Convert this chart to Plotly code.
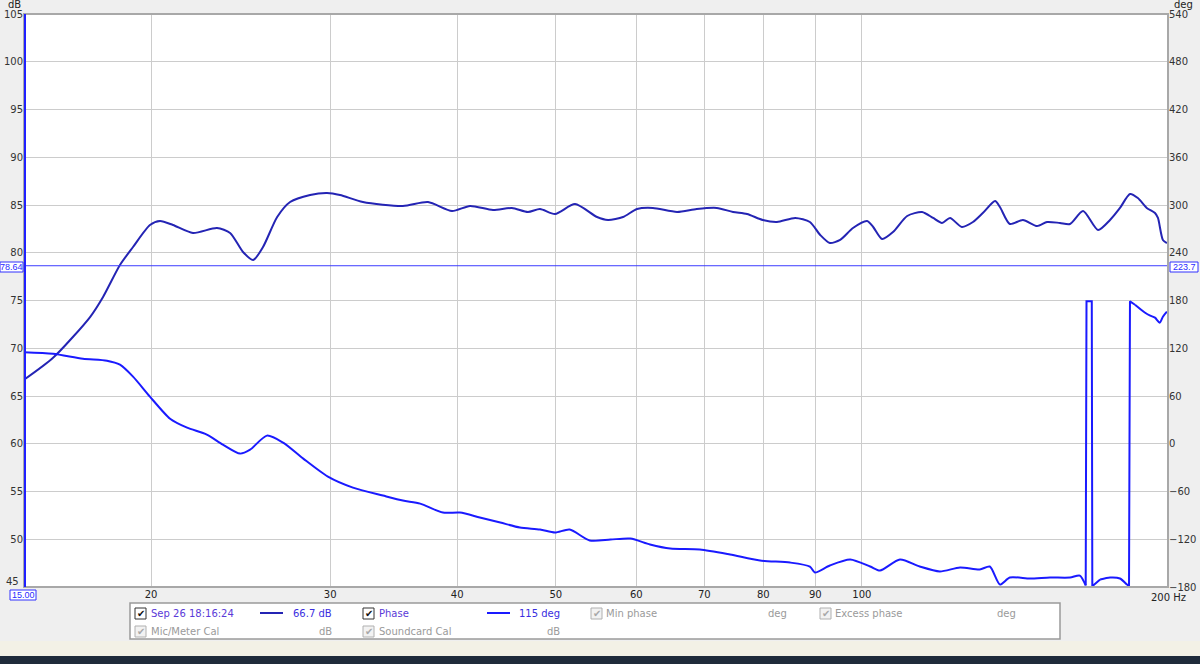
import plotly.graph_objects as go

# ---- data ----
spl_freq = [15.0, 16.02, 17.42, 17.94, 18.64, 19.2, 19.95, 20.41, 21.02, 21.99, 23.22, 23.92,
            24.63, 25.2, 25.77, 26.61, 27.4, 28.67, 29.79, 30.68, 32.31, 35.37, 37.44, 39.53,
            41.18, 43.38, 45.27, 46.95, 48.25, 49.92, 52.23, 54.9, 56.28, 58.23, 60.1, 62.3,
            65.8, 68.8, 72.0, 74.7, 77.1, 79.9, 82.5, 86.0, 88.9, 91.0, 93.0, 95.2, 98.0,
            101.2, 102.6, 104.7, 107.3, 110.8, 114.6, 117.5, 119.9, 122.1, 125.4, 128.6,
            131.5, 135.2, 136.7, 139.8, 144.0, 148.7, 152.1, 156.6, 160.2, 165.0, 170.7,
            175.4, 179.4, 183.5, 186.8, 190.6, 194.2, 195.5, 197.7, 199.5]
spl_db = [66.7, 69.0, 73.27, 75.37, 78.72, 80.6, 82.9, 83.32, 82.9, 82.07, 82.59, 82.07,
          80.08, 79.24, 80.6, 83.74, 85.31, 86.05, 86.26, 86.05, 85.31, 84.9, 85.31, 84.37,
          84.9, 84.48, 84.69, 84.27, 84.58, 84.06, 85.1, 83.74, 83.43, 83.74, 84.58, 84.69,
          84.27, 84.58, 84.69, 84.27, 84.06, 83.43, 83.22, 83.64, 83.22, 81.86, 81.02, 81.34,
          82.59, 83.32, 82.7, 81.44, 82.17, 83.85, 84.27, 83.64, 83.12, 83.64, 82.7, 83.22,
          84.16, 85.42, 84.79, 83.01, 83.43, 82.8, 83.22, 83.12, 83.01, 84.37, 82.38,
          83.43, 84.69, 86.15, 85.73, 84.69, 84.16, 83.64, 81.34, 81.02]

phase_freq = [15.0, 16.02, 17.14, 18.1, 18.64, 19.2, 19.95, 20.88, 21.7, 22.69, 23.53, 24.47,
              25.03, 26.0, 26.97, 28.23, 29.85, 31.59, 33.81, 35.37, 36.78, 38.73, 40.26,
              42.1, 44.1, 46.1, 48.25, 49.92, 51.6, 54.0, 56.6, 59.2, 61.9, 64.8, 69.3, 74.2,
              79.4, 85.0, 88.9, 89.9, 93.0, 97.4, 101.9, 104.2, 109.0, 114.0, 119.3, 124.9,
              130.6, 133.6, 136.7, 139.8, 146.3, 153.1, 160.2, 163.8, 166.0, 166.3, 168.3,
              168.5, 171.5, 175.4, 179.4, 182.3, 183.1, 183.5, 185.6, 189.9, 192.1, 194.2,
              196.3, 197.7, 199.5]
phase_deg = [115.0, 113.1, 106.9, 104.4, 99.3, 84.3, 59.2, 31.5, 20.2, 11.5, -1.1, -12.4,
             -7.4, 10.2, 1.4, -18.7, -41.3, -55.1, -65.1, -71.4, -75.2, -86.5, -86.5,
             -92.7, -99.0, -105.3, -107.8, -111.6, -107.8, -121.6, -120.4, -119.1, -126.6,
             -131.7, -132.9, -139.2, -146.7, -149.3, -154.3, -161.8, -153.0, -145.5, -154.3,
             -159.3, -145.5, -154.3, -160.5, -155.5, -158.0, -154.3, -176.9, -168.1, -169.3,
             -168.1, -168.1, -165.6, -178.0, 179.0, 179.0, -179.0, -170.6, -168.1, -169.3,
             -177.0, -179.0, 179.0, 174.7, 164.6, 160.9, 158.4, 152.1, 159.6, 165.9]
# indices where the phase wraps between -180 and +180
wrap_a = (56, 60)
wrap_b = (64, 66)

x_ticks = [20, 30, 40, 50, 60, 70, 80, 90, 100]
db_ticks = [45, 50, 55, 60, 65, 70, 75, 80, 85, 90, 95, 100, 105]
deg_ticks = [-180, -120, -60, 0, 60, 120, 180, 240, 300, 360, 420, 480, 540]
cursor_freq = 15.00
cursor_db = 78.64
cursor_deg = 223.7
spl_at_cursor = "66.7 dB"
phase_at_cursor = "115 deg"

# ---- layout geometry ----
W, H = 1200, 664
L, R, T, B = 24, 1168, 14, 587
FONT = "DejaVu Sans"
SPL_COLOR = "#2424b4"
PH_COLOR = "#1a1aff"


def px(x):
    return (x - L) / (R - L)


def py(y):
    return (B - y) / (B - T)


fig = go.Figure()
fig.add_trace(go.Scatter(x=spl_freq, y=spl_db, mode="lines",
                         line=dict(color=SPL_COLOR, width=2, shape="spline", smoothing=0.7),
                         hoverinfo="skip"))

segments = [
    (0, wrap_a[0] + 1, "spline"),
    (wrap_a[0], wrap_a[1] + 1, "linear"),
    (wrap_a[1], wrap_b[0] + 1, "spline"),
    (wrap_b[0], wrap_b[1] + 1, "linear"),
    (wrap_b[1], len(phase_freq), "spline"),
]
for a, b, shp in segments:
    fig.add_trace(go.Scatter(x=phase_freq[a:b], y=phase_deg[a:b], mode="lines", yaxis="y2",
                             line=dict(color=PH_COLOR, width=2, shape=shp, smoothing=0.7),
                             hoverinfo="skip"))

# cursor line (horizontal)
fig.add_trace(go.Scatter(x=[15, 200], y=[cursor_db, cursor_db], mode="lines",
                         line=dict(color="#3b3bff", width=1), hoverinfo="skip"))

db_ticktext = ["" if v == 45 else str(v) for v in db_ticks]

fig.update_layout(
    width=W, height=H,
    margin=dict(l=L, r=W - R, t=T, b=H - B, autoexpand=False),
    paper_bgcolor="#efefef", plot_bgcolor="#ffffff",
    showlegend=False,
    font=dict(family=FONT, size=10, color="#222222"),
    xaxis=dict(type="log", range=[1.1760913, 2.30103], tickvals=x_ticks,
               ticktext=[str(v) for v in x_ticks], showgrid=True, gridcolor="#cccccc",
               gridwidth=1, zeroline=False, ticks="", showline=False, automargin=False,
               tickfont=dict(size=10, family=FONT, color="#222")),
    yaxis=dict(range=[45, 105], tickvals=db_ticks, ticktext=db_ticktext, showgrid=True,
               gridcolor="#cccccc", zeroline=False, ticks="", showline=False, automargin=False,
               tickfont=dict(size=10, family=FONT, color="#333")),
    yaxis2=dict(range=[-180, 540], tickvals=deg_ticks, overlaying="y", side="right",
                showgrid=False, zeroline=False, ticks="", showline=False, automargin=False,
                tickfont=dict(size=10, family=FONT, color="#333")),
)

shapes = []
# plot frame
shapes.append(dict(type="rect", xref="paper", yref="paper", x0=0, x1=1, y0=0, y1=1,
                   line=dict(color="#a8a8a8", width=2), layer="above"))
# left cursor (15 Hz) vertical line
shapes.append(dict(type="line", xref="paper", yref="paper", x0=px(25), x1=px(25), y0=0, y1=1,
                   line=dict(color="#2020ff", width=2), layer="above"))
# legend panel
shapes.append(dict(type="rect", xref="paper", yref="paper", x0=px(130), x1=px(1060),
                   y0=py(639), y1=py(603), fillcolor="#ffffff", line=dict(color="#9a9a9a", width=1.5)))
# bottom strips
shapes.append(dict(type="rect", xref="paper", yref="paper", x0=px(0), x1=px(1200),
                   y0=py(656), y1=py(641), fillcolor="#f3f1e6", line=dict(width=0)))
shapes.append(dict(type="rect", xref="paper", yref="paper", x0=px(0), x1=px(1200),
                   y0=py(664), y1=py(656), fillcolor="#1f2b3a", line=dict(width=0)))
# legend line samples
shapes.append(dict(type="line", xref="paper", yref="paper", x0=px(260), x1=px(283), y0=py(613), y1=py(613),
                   line=dict(color=SPL_COLOR, width=2)))
shapes.append(dict(type="line", xref="paper", yref="paper", x0=px(487), x1=px(510), y0=py(613), y1=py(613),
                   line=dict(color=PH_COLOR, width=2)))
# checkboxes
boxes = [(135, 613, True), (363, 613, True), (591, 613, False), (820, 613, False),
         (135, 631, False), (363, 631, False)]
for cx, cy, active in boxes:
    shapes.append(dict(type="rect", xref="paper", yref="paper", x0=px(cx), x1=px(cx + 11),
                       y0=py(cy + 6), y1=py(cy - 5), fillcolor="#ffffff" if active else "#f2f2f2",
                       line=dict(color="#333333" if active else "#b0b0b0", width=1)))
# cursor value boxes
for x0, x1, y0, y1 in [(0, 23, 262, 272), (1170, 1198, 262, 272), (10, 36, 590, 600)]:
    shapes.append(dict(type="rect", xref="paper", yref="paper", x0=px(x0), x1=px(x1),
                       y0=py(y1), y1=py(y0), fillcolor="#ffffff", line=dict(color="#3030ff", width=1)))
fig.update_layout(shapes=shapes)

ann = []


def text(x, y, s, color="#222222", size=10, xanchor="left", family=FONT):
    ann.append(dict(x=px(x), y=py(y), xref="paper", yref="paper", text=s,
                    showarrow=False, xanchor=xanchor, yanchor="middle",
                    font=dict(family=family, size=size, color=color)))


text(14, 5, "dB", xanchor="center")
text(1183, 5, "deg", xanchor="center")
text(1168, 597, "200 Hz", xanchor="center")
text(21, 581, str(db_ticks[0]), color="#333", xanchor="right")
text(11.5, 267, f"{cursor_db:.2f}", color="#2a2aff", size=9, xanchor="center", family="Liberation Sans")
text(1184, 267, f"{cursor_deg:.1f}", color="#2a2aff", size=9, xanchor="center", family="Liberation Sans")
text(23, 595, f"{cursor_freq:.2f}", color="#2a2aff", size=9, xanchor="center", family="Liberation Sans")
# legend texts
for cx, cy, active in boxes:
    text(cx + 5.5, cy + 0.5, "✔", color="#111111" if active else "#a8a8a8", size=10, xanchor="center")
text(149, 613, "Sep 26 18:16:24", color="#5a3ad8")
text(334, 613, spl_at_cursor, color="#3a2ee0", xanchor="right")
text(377, 613, "Phase", color="#5a3ad8")
text(562, 613, phase_at_cursor, color="#3a2ee0", xanchor="right")
text(604, 613, "Min phase", color="#9a9a9a")
text(789, 613, "deg", color="#9a9a9a", xanchor="right")
text(833, 613, "Excess phase", color="#9a9a9a")
text(1018, 613, "deg", color="#9a9a9a", xanchor="right")
text(149, 631, "Mic/Meter Cal", color="#9a9a9a")
text(334, 631, "dB", color="#9a9a9a", xanchor="right")
text(377, 631, "Soundcard Cal", color="#9a9a9a")
text(562, 631, "dB", color="#9a9a9a", xanchor="right")
fig.update_layout(annotations=ann)

fig.write_html("out.html", config={"displayModeBar": False},
               post_script="document.body.style.margin='0';document.body.style.overflow='hidden';")
